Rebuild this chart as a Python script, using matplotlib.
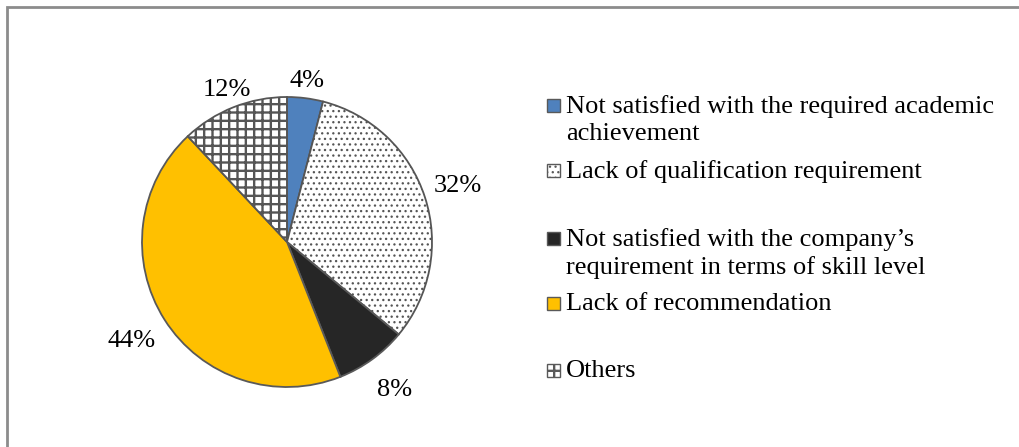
import matplotlib.pyplot as plt
import numpy as np
from matplotlib.patches import Rectangle

plt.rcParams['font.family'] = ['Liberation Serif', 'DejaVu Serif']
plt.rcParams['hatch.linewidth'] = 1.7

# === Data ===
categories = [
    "Not satisfied with the required academic\nachievement",
    "Lack of qualification requirement",
    "Not satisfied with the company\u2019s\nrequirement in terms of skill level",
    "Lack of recommendation",
    "Others",
]
shares = [4, 32, 8, 44, 12]

# === Styles ===
colors = ["#4F81BD", "white", "#262626", "#FFC000", "white"]
hatches = [None, "...", None, None, "++"]
hatch_lw = [None, 0.9, None, None, 1.7]
label_dist = [1.12, 1.24, 1.26, 1.27, 1.13]
legend_rows = [105, 170, 238, 303, 370]   # pixel rows of the legend entries

W, H = 1020, 447
fig = plt.figure(figsize=(W / 100, H / 100), dpi=100)


def px(x, y):
    return x / W, 1 - y / H


def apply_hatch(patch, h, lw):
    if h:
        patch.set_hatch(h)
        if hasattr(patch, "set_hatch_linewidth"):
            patch.set_hatch_linewidth(lw)


# chart frame (top and left edges visible)
fig.patches.append(Rectangle(px(7, 480), 1.2, 473 / H, transform=fig.transFigure,
                             fill=False, edgecolor="#8c8c8c", linewidth=2))

# === Pie ===
cx, cy, r = 287, 242, 145
half = 200
ax = fig.add_axes([(cx - half) / W, (H - cy - half) / H, 2 * half / W, 2 * half / H])
wedges, _ = ax.pie(shares, colors=colors, startangle=90, counterclock=False,
                   radius=1, wedgeprops=dict(edgecolor="#595959", linewidth=1.3))
for w, h, lw in zip(wedges, hatches, hatch_lw):
    if h:
        apply_hatch(w, h, lw)
        w.set_edgecolor("#555555")
ax.set_xlim(-half / r, half / r)
ax.set_ylim(-half / r, half / r)
ax.set_aspect("equal")
ax.axis("off")

# percent labels outside the wedges
for w, v, d in zip(wedges, shares, label_dist):
    ang = np.deg2rad((w.theta1 + w.theta2) / 2)
    ax.text(d * np.cos(ang), d * np.sin(ang), f"{v}%", ha="center", va="center",
            fontsize=19, color="black")

# === Legend ===
for lab, c, h, lw, y in zip(categories, colors, hatches, hatch_lw, legend_rows):
    x0, y0 = px(547, y + 7)
    box = Rectangle((x0, y0), 13 / W, 13 / H, transform=fig.transFigure,
                    facecolor=c, edgecolor="#595959", linewidth=1)
    apply_hatch(box, h, lw)
    fig.patches.append(box)
    fig.text(*px(566, y - 10), lab, ha="left", va="top", fontsize=19,
             linespacing=1.3)

fig.savefig("out.png", dpi=100)
